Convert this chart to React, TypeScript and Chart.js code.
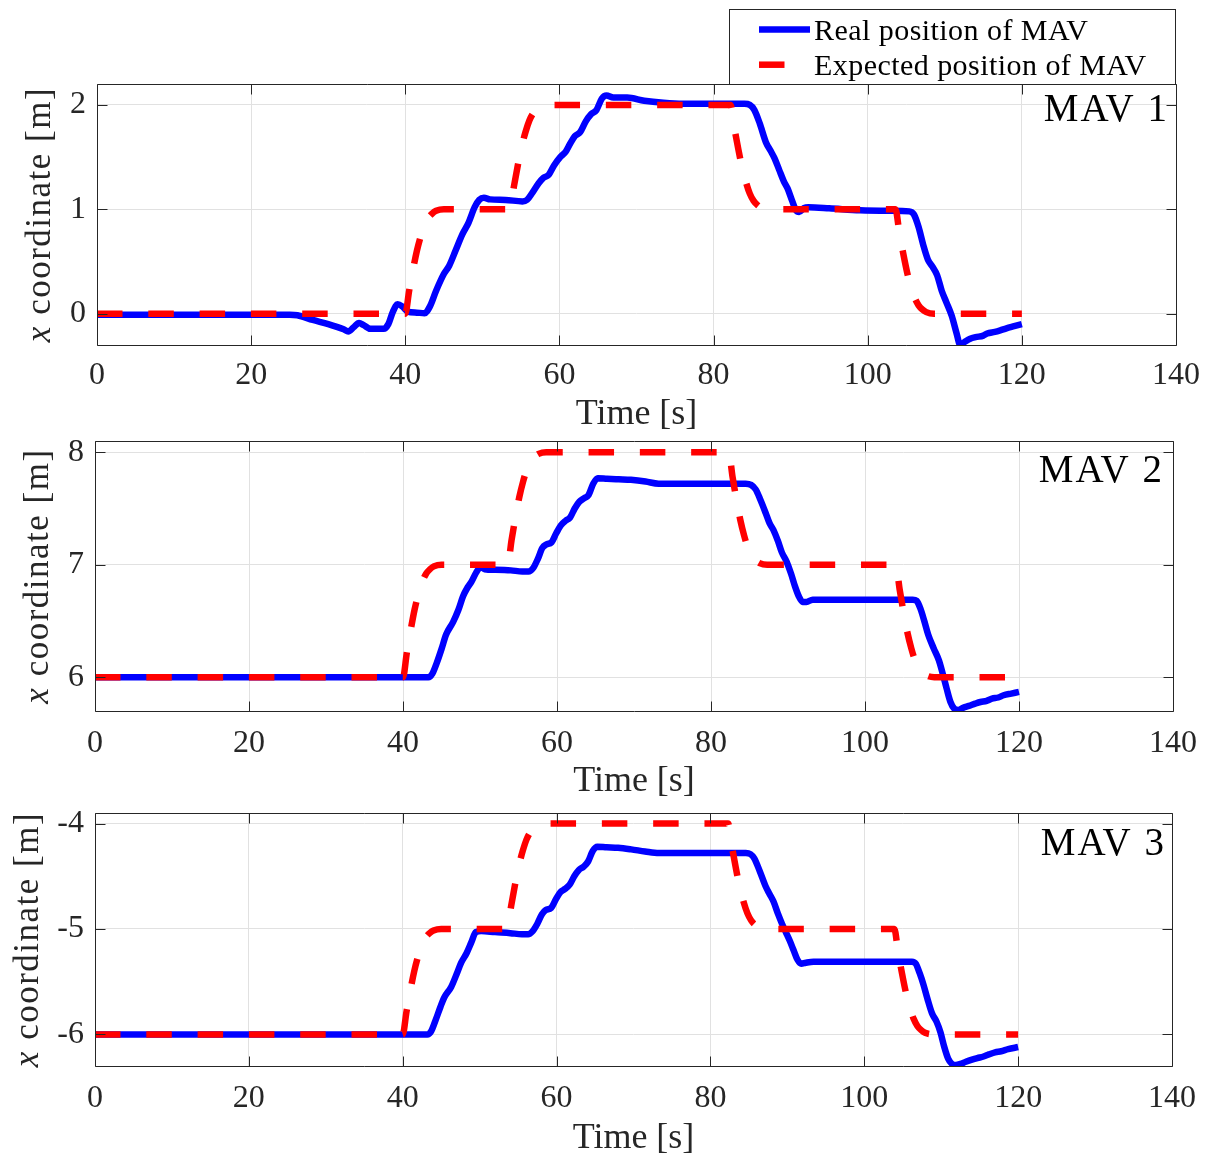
import React, { useEffect, useRef } from "react";
import { Chart, registerables } from "chart.js";

Chart.register(...registerables);

const SERIF = "'Liberation Serif', 'Times New Roman', Times, serif";
const AXIS_COLOR = "#262626";
const GRID_COLOR = "#e1e1e1";
const BLUE = "#0000ff";
const RED = "#ff0000";

// ---------------- data ----------------
const timeTicks = [0, 20, 40, 60, 80, 100, 120, 140];
const timeRange = [0, 140];
const xAxisTitle = "Time [s]";
const yAxisTitleParts = ["x", " coordinate [m]"];
const seriesLabels = ["Real position of MAV", "Expected position of MAV"];
const panelNames = ["MAV 1", "MAV 2", "MAV 3"];

const yTicks1 = [0, 1, 2];
const yRange1 = [-0.3, 2.2];
const yTicks2 = [6, 7, 8];
const yRange2 = [5.7, 8.1];
const yTicks3 = [-6, -5, -4];
const yRange3 = [-6.3, -3.9];

// MAV 1
const realT1 = [0, 5, 10, 15, 20, 25, 26, 28, 30, 32, 32.6, 33.3, 34, 34.6, 35.5, 37.2, 37.8, 38.4, 39, 39.6, 40.3, 41.5, 42.5, 43.2, 44, 45, 45.7, 46.5, 47.4, 48.2, 49, 49.6, 50.2, 51, 53, 55.2, 55.8, 56.5, 57.3, 57.9, 58.6, 59.3, 60.1, 60.8, 61.4, 62, 62.7, 63.4, 64.1, 64.8, 65.5, 66.1, 67, 68.8, 71, 73.5, 76, 80, 84, 84.7, 85.3, 86, 86.8, 87.4, 87.9, 88.5, 89.1, 89.6, 90.2, 90.7, 91.1, 91.7, 92.3, 95, 99, 103, 105.4, 106, 106.6, 107.2, 107.8, 108.4, 109, 109.6, 110.2, 110.9, 111.5, 112, 112.6, 113.3, 114, 115, 115.5, 116.5, 117.2, 118, 119, 120];
const realX1 = [-0.01, -0.01, -0.01, -0.01, -0.01, -0.01, -0.015, -0.06, -0.1, -0.15, -0.17, -0.13, -0.09, -0.11, -0.145, -0.145, -0.1, 0.02, 0.09, 0.07, 0.02, 0.01, 0.005, 0.07, 0.22, 0.38, 0.46, 0.6, 0.76, 0.87, 1.02, 1.09, 1.11, 1.095, 1.09, 1.075, 1.09, 1.16, 1.25, 1.3, 1.33, 1.42, 1.5, 1.55, 1.63, 1.7, 1.74, 1.84, 1.91, 1.95, 2.06, 2.09, 2.07, 2.07, 2.04, 2.02, 2.01, 2.01, 2.01, 2.0, 1.95, 1.82, 1.64, 1.56, 1.49, 1.38, 1.27, 1.2, 1.08, 0.99, 0.975, 1.01, 1.02, 1.01, 0.99, 0.985, 0.98, 0.95, 0.83, 0.66, 0.52, 0.45, 0.37, 0.22, 0.11, -0.02, -0.18, -0.3, -0.27, -0.24, -0.225, -0.21, -0.19, -0.175, -0.16, -0.14, -0.12, -0.1];
const expT1 = [0, 40, 40.5, 41, 41.5, 42, 42.5, 43, 43.5, 44, 45, 53.6, 54.1, 54.6, 55.1, 55.6, 56.1, 56.6, 57.1, 57.6, 58.6, 82.2, 82.7, 83.2, 83.7, 84.2, 84.7, 85.2, 85.7, 86.2, 87.2, 103.6, 104.1, 104.6, 105.1, 105.6, 106.1, 106.6, 107.1, 107.6, 108.6, 120];
const expX1 = [0, 0, 0.22, 0.42, 0.6, 0.74, 0.85, 0.92, 0.96, 0.985, 1, 1, 1.22, 1.42, 1.6, 1.74, 1.85, 1.92, 1.96, 1.985, 2, 2, 1.78, 1.58, 1.4, 1.26, 1.15, 1.08, 1.04, 1.015, 1, 1, 0.78, 0.58, 0.4, 0.26, 0.15, 0.08, 0.04, 0.015, 0, 0];

// MAV 2
const realT2 = [0, 10, 20, 30, 40, 43.3, 43.8, 44.4, 45, 45.6, 46.5, 47.2, 47.8, 48.4, 48.9, 49.5, 50.1, 50.6, 52, 54, 55.5, 56.3, 56.9, 57.5, 58.1, 58.6, 59.3, 59.9, 60.5, 61.1, 61.7, 62.3, 62.9, 63.5, 64.1, 64.7, 65.3, 66.5, 68, 69.6, 71.5, 73.2, 76, 80, 84.5, 85.2, 85.8, 86.4, 87.1, 87.6, 88.1, 88.7, 89.2, 89.8, 90.4, 90.9, 91.4, 91.9, 92.4, 93.2, 95, 100, 106.2, 106.7, 107.2, 107.7, 108.2, 108.9, 109.6, 110.1, 110.6, 111.1, 111.6, 112.1, 112.8, 113.5, 114.3, 115, 115.8, 116.5, 117.3, 118, 119, 120];
const realX2 = [6, 6, 6, 6, 6, 6, 6.03, 6.13, 6.25, 6.38, 6.49, 6.6, 6.72, 6.8, 6.85, 6.93, 6.98, 6.96, 6.955, 6.95, 6.94, 6.94, 6.97, 7.05, 7.15, 7.18, 7.2, 7.28, 7.35, 7.39, 7.42, 7.5, 7.56, 7.59, 7.62, 7.72, 7.77, 7.765, 7.76, 7.755, 7.74, 7.72, 7.72, 7.72, 7.72, 7.71, 7.67, 7.58, 7.46, 7.37, 7.31, 7.21, 7.11, 7.03, 6.92, 6.81, 6.72, 6.67, 6.67, 6.69, 6.69, 6.69, 6.69, 6.68, 6.61, 6.5, 6.38, 6.26, 6.15, 6.03, 5.9, 5.78, 5.72, 5.71, 5.73, 5.745, 5.765, 5.78, 5.79, 5.81, 5.82, 5.84, 5.855, 5.87];
const expT2 = [0, 40, 40.5, 41, 41.5, 42, 42.5, 43, 43.5, 44, 45, 53.6, 54.1, 54.6, 55.1, 55.6, 56.1, 56.6, 57.1, 57.6, 58.6, 82.3, 82.8, 83.3, 83.8, 84.3, 84.8, 85.3, 85.8, 86.3, 87.3, 104, 104.5, 105, 105.5, 106, 106.5, 107, 107.5, 108, 109, 120];
const expX2 = [6, 6, 6.22, 6.42, 6.6, 6.74, 6.85, 6.92, 6.96, 6.985, 7, 7, 7.22, 7.42, 7.6, 7.74, 7.85, 7.92, 7.96, 7.985, 8, 8, 7.78, 7.58, 7.4, 7.26, 7.15, 7.08, 7.04, 7.015, 7, 7, 6.78, 6.58, 6.4, 6.26, 6.15, 6.08, 6.04, 6.015, 6, 6];

// MAV 3
const realT3 = [0, 10, 20, 30, 40, 43.2, 43.7, 44.3, 44.9, 45.4, 46.3, 47, 47.6, 48.3, 48.9, 49.5, 50.2, 52, 54, 55.5, 56.3, 56.9, 57.5, 58.1, 58.6, 59.3, 59.9, 60.5, 61.1, 61.7, 62.3, 62.9, 63.5, 64.1, 64.7, 65.3, 66.5, 68, 69.7, 71.5, 73.3, 76, 80, 84.6, 85.2, 85.7, 86.4, 87.2, 87.7, 88.2, 88.8, 89.3, 89.8, 90.3, 90.8, 91.3, 91.8, 92.4, 93.4, 96, 100, 106.2, 106.7, 107.2, 107.7, 108.2, 108.8, 109.4, 109.9, 110.4, 110.9, 111.4, 111.9, 112.5, 113.2, 114, 114.7, 115.5, 116.2, 117, 117.8, 118.7, 120];
const realX3 = [-6, -6, -6, -6, -6, -6, -5.97, -5.86, -5.74, -5.65, -5.55, -5.43, -5.32, -5.23, -5.13, -5.03, -5.02, -5.03, -5.04, -5.05, -5.05, -5.02, -4.95, -4.86, -4.82, -4.8, -4.72, -4.65, -4.62, -4.58, -4.5, -4.44, -4.41, -4.36, -4.26, -4.22, -4.225, -4.23, -4.245, -4.265, -4.28, -4.28, -4.28, -4.28, -4.29, -4.33, -4.45, -4.6, -4.67, -4.74, -4.86, -4.95, -5.03, -5.11, -5.2, -5.29, -5.33, -5.32, -5.31, -5.31, -5.31, -5.31, -5.33, -5.42, -5.53, -5.66, -5.8, -5.88, -5.98, -6.12, -6.23, -6.28, -6.29, -6.28, -6.26, -6.24, -6.225, -6.21, -6.19, -6.17, -6.16, -6.14, -6.12];
const expT3 = [0, 40, 40.5, 41, 41.5, 42, 42.5, 43, 43.5, 44, 45, 53.6, 54.1, 54.6, 55.1, 55.6, 56.1, 56.6, 57.1, 57.6, 58.6, 82.3, 82.8, 83.3, 83.8, 84.3, 84.8, 85.3, 85.8, 86.3, 87.3, 103.9, 104.4, 104.9, 105.4, 105.9, 106.4, 106.9, 107.4, 107.9, 108.9, 120];
const expX3 = [-6, -6, -5.78, -5.58, -5.4, -5.26, -5.15, -5.08, -5.04, -5.015, -5, -5, -4.78, -4.58, -4.4, -4.26, -4.15, -4.08, -4.04, -4.015, -4, -4, -4.22, -4.42, -4.6, -4.74, -4.85, -4.92, -4.96, -4.985, -5, -5, -5.22, -5.42, -5.6, -5.74, -5.85, -5.92, -5.96, -5.985, -6, -6];

// ---------------- layout (page pixels) ----------------
const PAGE_W = 1212;
const PAGE_H = 1160;
const Y_AXIS_W = 60;
const X_AXIS_H = 94;
const TICK_LEN = 10;
const LINE_W = 6.5;
const DASH = [25.5, 25.8];

const panelLayout = [
  { left: 97, right: 1176, top: 84, bottom: 345, tickPad: 11, titlePad: 2.5, yTitleX: 50, nameDy: 37, nameDx: 9, legend: true },
  { left: 95, right: 1173, top: 441, bottom: 711, tickPad: 13, titlePad: 1.5, yTitleX: 48, nameDy: 41, nameDx: 11, legend: false },
  { left: 95, right: 1172, top: 813, bottom: 1066, tickPad: 13, titlePad: 0, yTitleX: 38, nameDy: 42, nameDx: 8, legend: false },
];

const panelData = [
  { realT: realT1, realX: realX1, expT: expT1, expX: expX1, yTicks: yTicks1, yRange: yRange1 },
  { realT: realT2, realX: realX2, expT: expT2, expX: expX2, yTicks: yTicks2, yRange: yRange2 },
  { realT: realT3, realX: realX3, expT: expT3, expX: expX3, yTicks: yTicks3, yRange: yRange3 },
];

const legendBox = { left: 729, top: 9, right: 1175, bottom: 84, lineX0: 759, lineX1: 810, rowY: [29.5, 64.7], textX: 814, textY: [39.5, 75] };

const toPoints = (ts: number[], vs: number[]) => ts.map((t, i) => ({ x: t, y: vs[i] }));

const matlabPlugin = {
  id: "matlabAxes",
  afterDatasetsDraw(chart: any, _args: any, opts: any) {
    const ctx: CanvasRenderingContext2D = chart.ctx;
    const { left, right, top, bottom } = chart.chartArea;
    const xs = chart.scales.x;
    const ys = chart.scales.y;
    ctx.save();
    ctx.setLineDash([]);
    // box + inward ticks
    ctx.strokeStyle = AXIS_COLOR;
    ctx.lineWidth = 1;
    const L = left + 0.5, R = right + 0.5, T = top + 0.5, B = bottom + 0.5;
    ctx.beginPath();
    ctx.moveTo(L, T);
    ctx.lineTo(R, T);
    ctx.lineTo(R, B);
    ctx.lineTo(L, B);
    ctx.closePath();
    xs.ticks.forEach((tk: any) => {
      const px = Math.round(xs.getPixelForValue(tk.value)) + 0.5;
      ctx.moveTo(px, B);
      ctx.lineTo(px, B - TICK_LEN);
      ctx.moveTo(px, T);
      ctx.lineTo(px, T + TICK_LEN);
    });
    ys.ticks.forEach((tk: any) => {
      const py = Math.round(ys.getPixelForValue(tk.value)) + 0.5;
      ctx.moveTo(L, py);
      ctx.lineTo(L + TICK_LEN, py);
      ctx.moveTo(R, py);
      ctx.lineTo(R - TICK_LEN, py);
    });
    ctx.stroke();

    // y-axis title with italic x
    ctx.save();
    ctx.translate(opts.yTitleX, (top + bottom) / 2);
    ctx.rotate(-Math.PI / 2);
    ctx.fillStyle = AXIS_COLOR;
    ctx.textBaseline = "alphabetic";
    ctx.textAlign = "left";
    (ctx as any).letterSpacing = "1.5px";
    const fItal = `italic 35px ${SERIF}`;
    const fReg = `35px ${SERIF}`;
    ctx.font = fItal;
    const w1 = ctx.measureText(yAxisTitleParts[0]).width;
    ctx.font = fReg;
    const w2 = ctx.measureText(yAxisTitleParts[1]).width;
    const x0 = -(w1 + w2) / 2;
    ctx.font = fItal;
    ctx.fillText(yAxisTitleParts[0], x0, 0);
    ctx.font = fReg;
    ctx.fillText(yAxisTitleParts[1], x0 + w1, 0);
    ctx.restore();

    // panel name
    ctx.save();
    ctx.fillStyle = "#000";
    ctx.font = `39px ${SERIF}`;
    (ctx as any).letterSpacing = "2px";
    ctx.textAlign = "right";
    ctx.textBaseline = "alphabetic";
    ctx.fillText(opts.name, right - opts.nameDx + 2, top + opts.nameDy);
    ctx.restore();

    // legend
    if (opts.legend) {
      const lb = legendBox;
      ctx.fillStyle = "#fff";
      ctx.fillRect(lb.left, lb.top, lb.right - lb.left, lb.bottom - lb.top);
      ctx.strokeStyle = AXIS_COLOR;
      ctx.lineWidth = 1;
      ctx.strokeRect(lb.left + 0.5, lb.top + 0.5, lb.right - lb.left, lb.bottom - lb.top);
      chart.data.datasets.forEach((ds: any, i: number) => {
        ctx.save();
        ctx.strokeStyle = ds.borderColor;
        ctx.lineWidth = ds.borderWidth;
        ctx.lineCap = "butt";
        ctx.setLineDash(ds.borderDash || []);
        ctx.beginPath();
        ctx.moveTo(lb.lineX0, lb.rowY[i]);
        ctx.lineTo(lb.lineX1, lb.rowY[i]);
        ctx.stroke();
        ctx.restore();
        ctx.save();
        ctx.fillStyle = "#000";
        ctx.font = `30px ${SERIF}`;
        (ctx as any).letterSpacing = "0.45px";
        ctx.textAlign = "left";
        ctx.textBaseline = "alphabetic";
        ctx.fillText(ds.label, lb.textX, lb.textY[i]);
        ctx.restore();
      });
    }
    ctx.restore();
  },
};

function buildConfig(i: number): any {
  const p = panelLayout[i];
  const d = panelData[i];
  return {
    type: "line",
    data: {
      datasets: [
        {
          label: seriesLabels[0],
          data: toPoints(d.realT, d.realX),
          borderColor: BLUE,
          borderWidth: LINE_W,
          borderJoinStyle: "round",
          pointRadius: 0,
          cubicInterpolationMode: "monotone",
          fill: false,
          clip: 0,
          order: 2,
        },
        {
          label: seriesLabels[1],
          data: toPoints(d.expT, d.expX),
          borderColor: RED,
          borderWidth: LINE_W,
          borderDash: DASH,
          borderCapStyle: "butt",
          pointRadius: 0,
          cubicInterpolationMode: "monotone",
          fill: false,
          clip: 0,
          order: 1,
        },
      ],
    },
    options: {
      responsive: false,
      maintainAspectRatio: false,
      animation: false,
      devicePixelRatio: 1,
      events: [],
      layout: {
        padding: {
          left: p.left - Y_AXIS_W,
          right: PAGE_W - p.right,
          top: p.top,
          bottom: PAGE_H - p.bottom - X_AXIS_H,
        },
      },
      plugins: {
        legend: { display: false },
        tooltip: { enabled: false },
        title: { display: false },
        matlabAxes: {
          yTitleX: p.yTitleX,
          name: panelNames[i],
          nameDx: p.nameDx,
          nameDy: p.nameDy,
          legend: p.legend,
        },
      },
      scales: {
        x: {
          type: "linear",
          position: "bottom",
          min: timeRange[0],
          max: timeRange[1],
          afterBuildTicks: (s: any) => {
            s.ticks = timeTicks.map((v) => ({ value: v }));
          },
          afterFit: (s: any) => {
            s.height = X_AXIS_H;
          },
          border: { display: false },
          grid: { color: GRID_COLOR, lineWidth: 1, drawTicks: false },
          ticks: {
            autoSkip: false,
            maxRotation: 0,
            minRotation: 0,
            padding: p.tickPad,
            color: AXIS_COLOR,
            font: { family: SERIF, size: 32 },
            callback: (v: any) => String(v),
          },
          title: {
            display: true,
            text: xAxisTitle,
            color: AXIS_COLOR,
            font: { family: SERIF, size: 36 },
            padding: { top: 0, bottom: p.titlePad },
          },
        },
        y: {
          type: "linear",
          position: "left",
          min: d.yRange[0],
          max: d.yRange[1],
          afterBuildTicks: (s: any) => {
            s.ticks = d.yTicks.map((v) => ({ value: v }));
          },
          afterFit: (s: any) => {
            s.width = Y_AXIS_W;
          },
          border: { display: false },
          grid: { color: GRID_COLOR, lineWidth: 1, drawTicks: false },
          ticks: {
            padding: 11,
            color: AXIS_COLOR,
            font: { family: SERIF, size: 32 },
            callback: (v: any) => String(v),
          },
          title: { display: false },
        },
      },
    },
    plugins: [matlabPlugin],
  };
}

export default function App() {
  const canvases = useRef<(HTMLCanvasElement | null)[]>([]);

  useEffect(() => {
    const charts = panelLayout.map((_, i) => new Chart(canvases.current[i] as HTMLCanvasElement, buildConfig(i)));
    return () => {
      charts.forEach((c) => c.destroy());
    };
  }, []);

  return (
    <div style={{ position: "absolute", left: 0, top: 0, width: PAGE_W, height: PAGE_H, background: "#ffffff" }}>
      {panelLayout.map((_, i) => (
        <canvas
          key={i}
          ref={(el) => {
            canvases.current[i] = el;
          }}
          width={PAGE_W}
          height={PAGE_H}
          style={{ position: "absolute", left: 0, top: 0, width: PAGE_W, height: PAGE_H }}
        />
      ))}
    </div>
  );
}
